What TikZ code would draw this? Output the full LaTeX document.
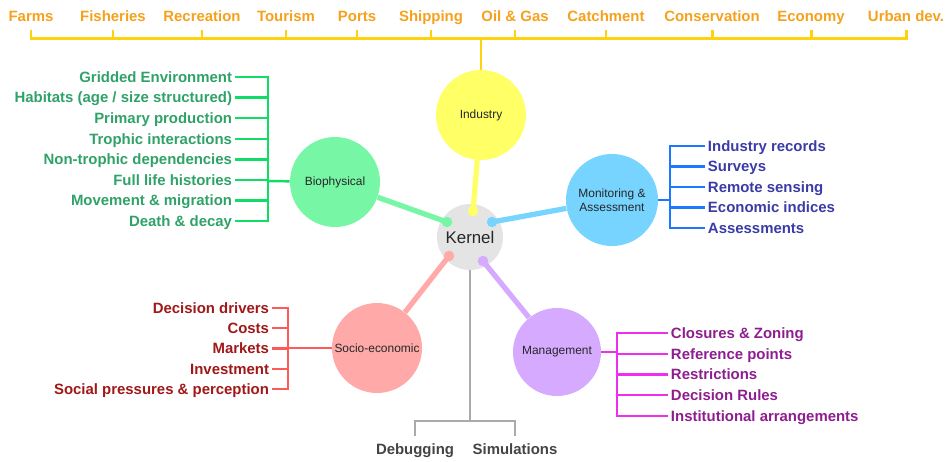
\documentclass[tikz,border=0pt]{standalone}
\usepackage{fontspec}
\setmainfont{Liberation Sans}

\definecolor{toptext}{HTML}{F5A11C}
\definecolor{topline}{HTML}{FFD20F}
\definecolor{kernelfill}{HTML}{E4E4E4}
\definecolor{indfill}{HTML}{FFFF66}
\definecolor{biofill}{HTML}{77F7A5}
\definecolor{monfill}{HTML}{77D4FF}
\definecolor{socfill}{HTML}{FFA9A9}
\definecolor{manfill}{HTML}{D5AAFF}
\definecolor{biotext}{HTML}{2FA268}
\definecolor{bioline}{HTML}{10DD66}
\definecolor{montext}{HTML}{3B3BA8}
\definecolor{monline}{HTML}{1A7AFF}
\definecolor{soctext}{HTML}{A01818}
\definecolor{socline}{HTML}{FF5A5A}
\definecolor{mantext}{HTML}{8E1E8E}
\definecolor{manline}{HTML}{EE30EE}
\definecolor{bottext}{HTML}{444444}
\definecolor{botline}{HTML}{AAAAAA}

\begin{document}
\begin{tikzpicture}[x=0.02cm, y=-0.02cm,
    hub/.style={circle, minimum size=1.8cm, inner sep=0pt, align=center, text=black!85, font=\fontsize{6.8}{8.2}\selectfont},
    lab/.style={inner sep=1.5pt, text height=6.1pt, text depth=0pt, font=\fontsize{8.5}{10}\selectfont\bfseries},
    kdot/.style={circle, inner sep=0pt, minimum size=0.21cm},
    spoke/.style={line width=3pt},
    branch/.style={line width=1.4pt}]
  \useasboundingbox (0,0) rectangle (947,461);

  \coordinate (topjoin) at (481,38);
  \coordinate (ticktop) at (0,30);
  \foreach \x/\n/\t in {31/farms/Farms, 113/fisheries/Fisheries, 202/recreation/Recreation, 286/tourism/Tourism,
      357/ports/Ports, 431/shipping/Shipping, 515/oilgas/{Oil \& Gas}, 606/catchment/Catchment,
      712/conservation/Conservation, 811/economy/Economy, 906/urban/{Urban dev.}}{
    \node[lab, text=toptext] (\n) at (\x,16) {\t};
    \draw[line width=1.7pt, topline] (\n |- ticktop) |- (topjoin);
  }

  \node[hub, minimum size=1.32cm, fill=kernelfill, font=\fontsize{9.6}{11}\selectfont] (kernel) at (470,237) {Kernel};
  \node[hub, fill=indfill] (industry) at (481,115) {Industry};
  \node[hub, fill=biofill] (bio) at (335,182) {Biophysical};
  \node[hub, fill=monfill, minimum size=1.84cm] (mon) at (612,200) {Monitoring \&\\Assessment};
  \node[hub, fill=socfill] (soc) at (377,348) {Socio-economic};
  \node[hub, fill=manfill, minimum size=1.76cm] (man) at (557,352) {Management};

  \draw[line width=1.7pt, topline] (topjoin) -- (industry);

  \node[kdot, fill=indfill] (dind) at (473,211) {};
  \node[kdot, fill=biofill] (dbio) at (447,222) {};
  \node[kdot, fill=monfill] (dmon) at (492,222) {};
  \node[kdot, fill=socfill] (dsoc) at (449,256) {};
  \node[kdot, fill=manfill] (dman) at (483,261) {};
  \draw[spoke, indfill] (dind.center) -- (industry);
  \draw[spoke, biofill] (dbio.center) -- (bio);
  \draw[spoke, monfill] (dmon.center) -- (mon);
  \draw[spoke, socfill] (dsoc.center) -- (soc);
  \draw[spoke, manfill] (dman.center) -- (man);

  % biophysical
  \coordinate (biojoin) at (268,181);
  \draw[branch, bioline] (bio) -- (biojoin);
  \foreach \t [count=\i] in {Gridded Environment, {Habitats (age / size structured)}, Primary production,
      Trophic interactions, Non-trophic dependencies, Full life histories, Movement \& migration, Death \& decay}{
    \node[lab, text=biotext, anchor=east] (bio\i) at (235,{77+20.6*(\i-1)}) {\t};
    \draw[branch, bioline] (bio\i.east) -| (biojoin);
  }

  % monitoring
  \coordinate (monjoin) at (670,200);
  \draw[branch, monline] (mon) -- (monjoin);
  \foreach \t [count=\i] in {Industry records, Surveys, Remote sensing, Economic indices, Assessments}{
    \node[lab, text=montext, anchor=west] (mon\i) at (705,{146+20.5*(\i-1)}) {\t};
    \draw[branch, monline] (mon\i.west) -| (monjoin);
  }

  % socio-economic
  \coordinate (socjoin) at (288,348);
  \draw[branch, socline] (soc) -- (socjoin);
  \foreach \t [count=\i] in {Decision drivers, Costs, Markets, Investment, Social pressures \& perception}{
    \node[lab, text=soctext, anchor=east] (soc\i) at (272,{308+20.25*(\i-1)}) {\t};
    \draw[branch, socline] (soc\i.east) -| (socjoin);
  }

  % management
  \coordinate (manjoin) at (617,352);
  \draw[branch, manline] (man) -- (manjoin);
  \foreach \t [count=\i] in {Closures \& Zoning, Reference points, Restrictions, Decision Rules, Institutional arrangements}{
    \node[lab, text=mantext, anchor=west] (man\i) at (668,{333+20.75*(\i-1)}) {\t};
    \draw[branch, manline] (man\i.west) -| (manjoin);
  }

  % outputs
  \coordinate (simjoin) at (470,421);
  \coordinate (tickbot) at (0,436);
  \node[lab, text=bottext] (debugging) at (415,449) {Debugging};
  \node[lab, text=bottext] (simulations) at (515,449) {Simulations};
  \draw[line width=1.1pt, botline] (kernel) -- (simjoin);
  \draw[line width=1.1pt, botline] (debugging |- tickbot) |- (simjoin);
  \draw[line width=1.1pt, botline] (simulations |- tickbot) |- (simjoin);
\end{tikzpicture}
\end{document}
